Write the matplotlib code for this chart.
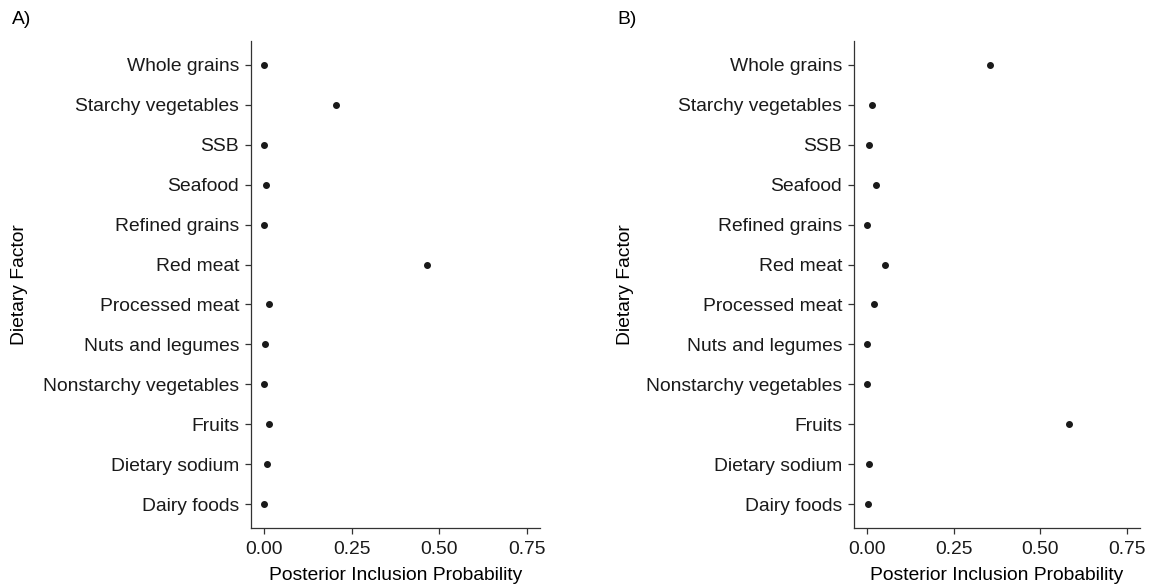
import matplotlib
matplotlib.use("Agg")
import matplotlib.pyplot as plt

plt.rcParams['font.family'] = ['Liberation Sans', 'DejaVu Sans']

factors = ["Whole grains", "Starchy vegetables", "SSB", "Seafood", "Refined grains",
           "Red meat", "Processed meat", "Nuts and legumes", "Nonstarchy vegetables",
           "Fruits", "Dietary sodium", "Dairy foods"]
pip_a = [0.000, 0.205, 0.000, 0.004, 0.000, 0.464, 0.014, 0.002, 0.001, 0.013, 0.007, 0.000]
pip_b = [0.355, 0.014, 0.005, 0.027, 0.001, 0.051, 0.019, 0.001, 0.001, 0.583, 0.007, 0.003]
xticks = [0.0, 0.25, 0.5, 0.75]
xticklabels = ["0.00", "0.25", "0.50", "0.75"]
panel_labels = ["A)", "B)"]

W, H = 1150, 586
fig = plt.figure(figsize=(W / 100, H / 100), dpi=100)

boxes = [(251, 41, 540, 528), (854, 41, 1140, 528)]
label_x = [12, 617]
ylab_x = [20, 625]
n = len(factors)
ypos = list(range(n - 1, -1, -1))
fs = 13.9

for i, (vals, box) in enumerate(zip([pip_a, pip_b], boxes)):
    x0, y0, x1, y1 = box
    ax = fig.add_axes([x0 / W, 1 - y1 / H, (x1 - x0) / W, (y1 - y0) / H])
    ax.plot(vals, ypos, 'o', color='#1a1a1a', markersize=4.0, linestyle='none')
    ax.set_xlim(-0.0375, 0.7875)
    ax.set_ylim(-0.6, n - 1 + 0.6)
    ax.set_yticks(ypos)
    ax.set_yticklabels(factors, fontsize=fs, color='#1a1a1a')
    ax.set_xticks(xticks)
    ax.set_xticklabels(xticklabels, fontsize=fs, color='#1a1a1a')
    for s in ['top', 'right']:
        ax.spines[s].set_visible(False)
    for s in ['left', 'bottom']:
        ax.spines[s].set_color('#333333')
        ax.spines[s].set_linewidth(0.9)
    ax.tick_params(axis='y', length=4, width=0.9, color='#333333', pad=4.5)
    ax.tick_params(axis='x', length=4, width=0.9, color='#333333', pad=5)
    ax.set_xlabel("Posterior Inclusion Probability", fontsize=fs, labelpad=7)
    fig.text(ylab_x[i] / W, 1 - ((y0 + y1) / 2) / H, "Dietary Factor", rotation=90,
             ha='center', va='center', fontsize=fs)
    fig.text(label_x[i] / W, 1 - 20 / H, panel_labels[i], ha='left', va='center',
             fontsize=fs)

fig.savefig("out.png", dpi=100, facecolor='white')
